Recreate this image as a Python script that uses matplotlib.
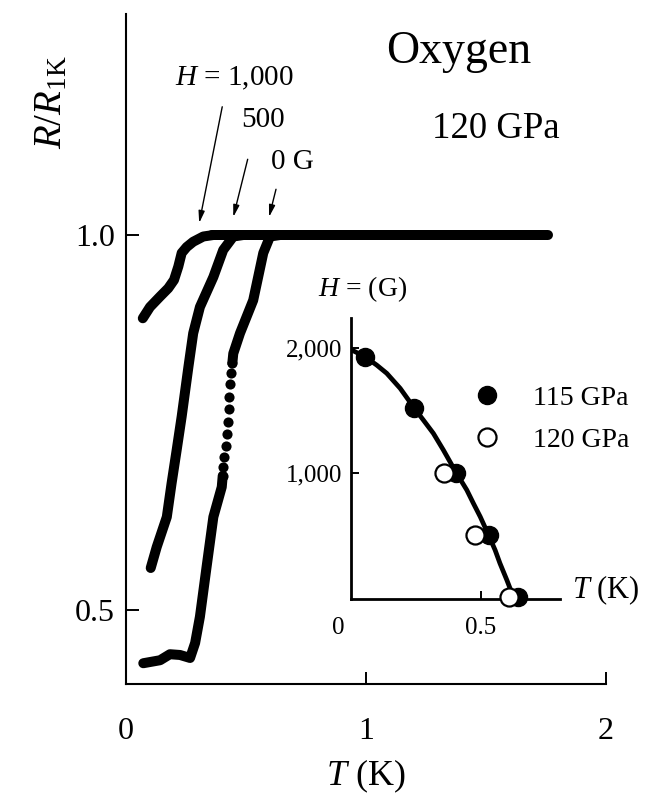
import matplotlib
matplotlib.use('Agg')
import matplotlib.pyplot as plt
from matplotlib.lines import Line2D

plt.rcParams['font.family'] = ['Liberation Serif', 'DejaVu Serif']
plt.rcParams['mathtext.fontset'] = 'custom'
plt.rcParams['mathtext.rm'] = 'Liberation Serif'
plt.rcParams['mathtext.it'] = 'Liberation Serif:italic'
plt.rcParams['mathtext.bf'] = 'Liberation Serif:bold'

# --- Main panel: R/R1K vs T, traces ---
# H = 1,000 G
t_1000 = [0.070, 0.100, 0.142, 0.176, 0.200, 0.218, 0.232, 0.253, 0.280, 0.322, 0.364]
r_1000 = [0.889, 0.904, 0.918, 0.929, 0.940, 0.958, 0.976, 0.984, 0.991, 0.998, 1.000]

# H = 500 G
t_500 = [0.103, 0.128, 0.170, 0.190, 0.211, 0.232, 0.260, 0.280, 0.308, 0.364, 0.405, 0.447, 0.489]
r_500 = [0.556, 0.584, 0.624, 0.669, 0.713, 0.758, 0.824, 0.869, 0.904, 0.944, 0.980, 0.998, 1.000]

# H = 0 G: lower solid part, dotted middle part, upper solid part
t_0_low = [0.072, 0.142, 0.183, 0.225, 0.267, 0.288, 0.308, 0.336, 0.364, 0.399, 0.403]
r_0_low = [0.429, 0.433, 0.441, 0.440, 0.436, 0.456, 0.491, 0.558, 0.624, 0.664, 0.679]
t_0_dots = [0.403, 0.405, 0.410, 0.417, 0.422, 0.426, 0.429, 0.430, 0.433, 0.4375, 0.443]
r_0_dots = [0.679, 0.691, 0.704, 0.719, 0.735, 0.751, 0.768, 0.784, 0.801, 0.816, 0.829]
t_0_high = [0.443, 0.447, 0.475, 0.530, 0.572, 0.600, 0.642]
r_0_high = [0.829, 0.842, 0.869, 0.913, 0.976, 0.998, 1.000]

# common normal-state plateau
t_plateau = [0.36, 1.76]
r_plateau = [1.0, 1.0]

# --- Inset: critical field vs T ---
t_115 = [0.094, 0.267, 0.411, 0.526, 0.630]
h_115 = [1930, 1520, 1000, 500, 0]
t_120 = [0.371, 0.479, 0.599]
h_120 = [1000, 500, 0]
# guide-to-the-eye curve, traced
t_fit = [0.048, 0.094, 0.135, 0.170, 0.217, 0.267, 0.298, 0.333, 0.368, 0.411,
         0.450, 0.473, 0.497, 0.526, 0.549, 0.566, 0.590, 0.613]
h_fit = [1987, 1933, 1866, 1800, 1679, 1518, 1424, 1317, 1183, 1008,
         861, 754, 646, 499, 378, 271, 137, 0]

# annotations on main panel: (label, text x, text y), arrows (start, tip)
field_labels = [('$H$ = 1,000', 0.45, 1.209), ('500', 0.569, 1.153), ('0 G', 0.694, 1.097)]
arrows = [((0.401, 1.171), (0.305, 1.016)),
          ((0.507, 1.101), (0.447, 1.024)),
          ((0.625, 1.061), (0.596, 1.024))]

W, H = 653, 796
fig = plt.figure(figsize=(W / 100, H / 100), dpi=100)
ax = fig.add_axes([126 / W, 1 - 684 / H, 480 / W, 670 / H])

ink = dict(color='black', lw=7.2, solid_capstyle='round', solid_joinstyle='round')
ax.plot(t_plateau, r_plateau, **ink)
ax.plot(t_1000, r_1000, **ink)
ax.plot(t_500, r_500, **ink)
ax.plot(t_0_low, r_0_low, **ink)
ax.plot(t_0_high, r_0_high, **ink)
ax.plot(t_0_dots, r_0_dots, 'o', color='black', ms=7.3, mew=0)

ax.set_xlim(0, 2)
ax.set_ylim(0.4013, 1.2947)
ax.set_xticks([0, 1, 2])
ax.set_xticklabels(['0', '1', '2'])
ax.set_yticks([0.5, 1.0])
ax.set_yticklabels(['0.5', '1.0'])
for s in ['top', 'right']:
    ax.spines[s].set_visible(False)
for s in ['left', 'bottom']:
    ax.spines[s].set_linewidth(1.5)
ax.tick_params(direction='in', length=9, width=1.4, labelsize=23)
ax.tick_params(axis='x', pad=24)
ax.tick_params(axis='y', pad=8)
ax.set_xlabel('$T$ (K)', fontsize=26, labelpad=8)
ax.set_ylabel('$R/R_{\\rm 1K}$', fontsize=28)
ax.yaxis.set_label_coords(-0.117, 0.869)

for txt, x, y in field_labels:
    ax.text(x, y, txt, fontsize=21, ha='center', va='center')
for start, tip in arrows:
    ax.annotate('', xy=tip, xytext=start,
                arrowprops=dict(arrowstyle='-|>,head_length=0.7,head_width=0.18',
                                color='black', lw=1.0, shrinkA=0, shrinkB=0))

ax.text(1.386, 1.229, 'Oxygen', fontsize=33, ha='center', va='baseline')
ax.text(1.542, 1.129, '120 GPa', fontsize=26.5, ha='center', va='baseline')

# --- Inset ---
ins = fig.add_axes([351 / W, 1 - 599 / H, 209 / W, 281 / H])
ins.patch.set_alpha(0)
ins.plot(t_fit, h_fit, color='black', lw=3.4, zorder=2,
         solid_capstyle='round', solid_joinstyle='round')
ins.plot(t_115, h_115, 'o', ms=13, mfc='black', mec='black', zorder=3, clip_on=False)
ins.plot(t_120, h_120, 'o', ms=13, mfc='white', mec='black', mew=1.6, zorder=4, clip_on=False)

ins.set_xlim(0.045, 0.776)
ins.set_ylim(-16, 2245)
ins.set_xticks([0.5])
ins.set_xticklabels(['0.5'])
ins.set_yticks([1000, 2000])
ins.set_yticklabels(['1,000', '2,000'])
for s in ['top', 'right']:
    ins.spines[s].set_visible(False)
for s in ['left', 'bottom']:
    ins.spines[s].set_linewidth(2)
ins.tick_params(direction='in', length=6, width=1.4, labelsize=18)
ins.tick_params(axis='x', pad=13)
ins.tick_params(axis='y', pad=6)
ins.annotate('0', xy=(0, 0), xycoords=ins.get_xaxis_transform(),
             xytext=(0, -13), textcoords='offset points',
             ha='center', va='top', fontsize=18)
ins.text(1.057, 0.032, '$T$ (K)', transform=ins.transAxes, fontsize=22,
         ha='left', va='center')
ins.text(0.057, 1.103, '$H$ = (G)', transform=ins.transAxes, fontsize=20,
         ha='center', va='center')

handles = [Line2D([], [], ls='', marker='o', ms=13, mfc='black', mec='black'),
           Line2D([], [], ls='', marker='o', ms=13, mfc='white', mec='black', mew=1.6)]
ins.legend(handles, ['115 GPa', '120 GPa'], loc='center left',
           bbox_to_anchor=(0.598, 0.640), frameon=False, fontsize=20,
           handlelength=0.8, handletextpad=1.26, labelspacing=0.6,
           borderpad=0, borderaxespad=0)

fig.savefig('out.png', dpi=100)
